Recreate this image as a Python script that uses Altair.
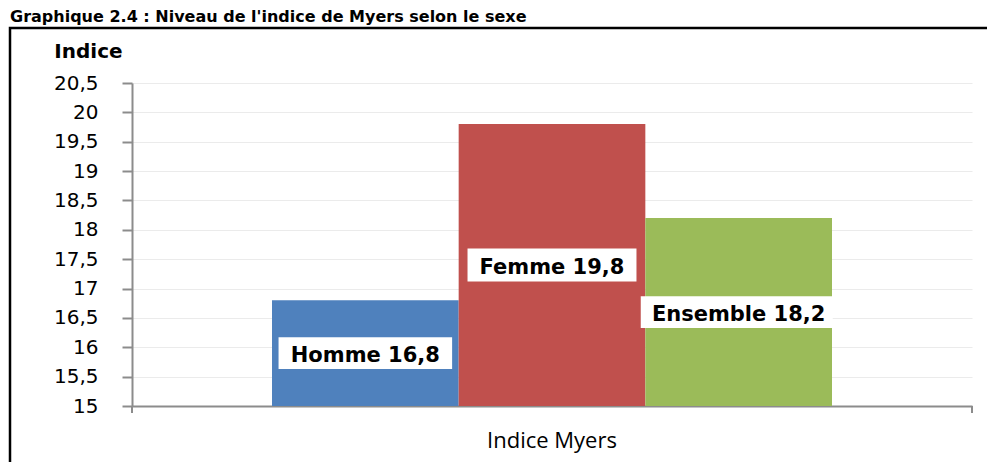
import altair as alt
import pandas as pd

# ---- data ----
TITLE = "Graphique 2.4 : Niveau de l'indice de Myers selon le sexe"
CATEGORY = "Indice Myers"
SERIES = ["Homme", "Femme", "Ensemble"]
VALUES = [16.8, 19.8, 18.2]
Y_TICKS = [15, 15.5, 16, 16.5, 17, 17.5, 18, 18.5, 19, 19.5, 20, 20.5]
Y_AXIS_TITLE = "Indice"
COLORS = ["#4F81BD", "#C0504D", "#9BBB59"]

LABELS = [f"{s} {str(v).replace('.', ',')}" for s, v in zip(SERIES, VALUES)]
df = pd.DataFrame({"cat": CATEGORY, "series": SERIES, "value": VALUES, "label": LABELS})

Y_MIN, Y_MAX = Y_TICKS[0], Y_TICKS[-1]
W, H = 840, 323
GREY = "#8c8c8c"

# white label boxes (custom symbol paths, scaled by sqrt(size)/2 = 96 px)
BOX_PATHS = [
    "M-0.904,-0.165H0.904V0.165H-0.904Z",
    "M-0.88,-0.172H0.88V0.172H-0.88Z",
    "M-1.02,-0.165H0.98V0.165H-1.02Z",
]

x_scale = alt.Scale(paddingInner=0, paddingOuter=0.25)
y_scale = alt.Scale(domain=[Y_MIN, Y_MAX], nice=False, zero=False)
xoff = alt.XOffset("series:N", sort=SERIES, scale=alt.Scale(paddingInner=0, paddingOuter=0))

x_axis = alt.Axis(ticks=False, labelFont="Open Sans", labelFontSize=22,
                  labelColor="black", labelPadding=24, labelAngle=0,
                  domainColor=GREY, domainWidth=2, grid=False)
y_axis = alt.Axis(values=Y_TICKS,
                  labelExpr="replace(toString(datum.value), '.', ',')",
                  title=Y_AXIS_TITLE, titleAngle=0, titleX=-44, titleY=-32,
                  titleAlign="center", titleBaseline="middle",
                  titleFont="DejaVu Sans", titleFontWeight="bold",
                  titleFontSize=20, titleColor="black",
                  labelFont="DejaVu Sans", labelFontSize=20, labelColor="black",
                  labelPadding=24, tickSize=10, tickColor=GREY, tickWidth=2,
                  domainColor=GREY, domainWidth=2,
                  grid=True, gridColor="#ebebeb", gridWidth=1)

X = alt.X("cat:N", scale=x_scale, title=None, axis=x_axis)

base = alt.Chart(df).transform_calculate(
    base=str(Y_MIN), mid=f"(datum.value + {Y_MIN}) / 2"
)

bars = base.mark_bar().encode(
    x=X,
    xOffset=xoff,
    y=alt.Y("value:Q", scale=y_scale, title=Y_AXIS_TITLE, axis=y_axis),
    y2="base:Q",
    color=alt.Color("series:N", scale=alt.Scale(domain=SERIES, range=COLORS), legend=None),
)

boxes = base.mark_point(filled=True, fill="white", opacity=1, strokeWidth=0).encode(
    x=X,
    xOffset=xoff,
    y=alt.Y("mid:Q", scale=y_scale, title=Y_AXIS_TITLE, axis=y_axis),
    shape=alt.Shape("series:N", scale=alt.Scale(domain=SERIES, range=BOX_PATHS), legend=None),
    size=alt.value(36864),
)

texts = base.mark_text(font="DejaVu Sans", fontWeight="bold", fontSize=21,
                       color="black", baseline="middle", align="center", dy=3).encode(
    x=X,
    xOffset=xoff,
    y=alt.Y("mid:Q", scale=y_scale, title=Y_AXIS_TITLE, axis=y_axis),
    text="label:N",
)

one = alt.Data(values=[{}])
frame = alt.Chart(one).mark_rect(fillOpacity=0, stroke="black", strokeWidth=2.5).encode(
    x=alt.value(-122), x2=alt.value(900), y=alt.value(-55), y2=alt.value(430)
)
tick_l = alt.Chart(one).mark_rule(color=GREY, strokeWidth=2).encode(
    x=alt.value(0), y=alt.value(H), y2=alt.value(H + 7)
)
tick_r = alt.Chart(one).mark_rule(color=GREY, strokeWidth=2).encode(
    x=alt.value(W), y=alt.value(H), y2=alt.value(H + 7)
)
title = alt.Chart(one).mark_text(align="left", baseline="alphabetic", font="DejaVu Sans",
                                 fontWeight="bold", fontSize=16, color="black").encode(
    x=alt.value(-122), y=alt.value(-61), text=alt.value(TITLE)
)

chart = alt.layer(frame, bars, boxes, texts, tick_l, tick_r, title).properties(
    width=W, height=H,
    autosize=alt.AutoSizeParams(type="none"),
    padding={"left": 124, "top": 75, "right": 15, "bottom": 56},
    background="white",
).configure_view(stroke=None)

chart.save("out.html", embed_options={"renderer": "svg", "actions": False})
